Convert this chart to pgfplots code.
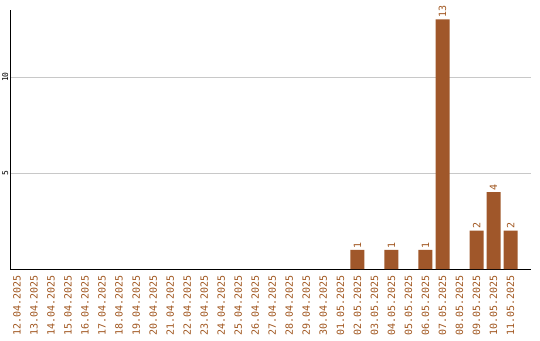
\documentclass[border=0pt]{standalone}
\usepackage{pgfplots}
\pgfplotsset{compat=1.18}
\usepackage{fontspec}
\setmainfont{DejaVu Sans Mono}
\definecolor{barcol}{HTML}{A0572A}
\definecolor{labcol}{HTML}{A0561F}
\definecolor{gridcol}{HTML}{C8C8C8}
\begin{document}
\begin{tikzpicture}
\path[use as bounding box] (-10pt,-71pt) rectangle (530pt,269pt);
\begin{axis}[
  scale only axis, width=521pt, height=259pt,
  xmin=-0.41, xmax=30.2, ymin=0, ymax=13.49,
  axis x line=bottom, axis y line=left,
  axis line style={-, black, line width=1pt},
  /pgf/number format/assume math mode=true,
  ytick={5,10}, ymajorgrids, grid style={gridcol, line width=0.8pt},
  major tick length=0pt,
  yticklabel style={rotate=90, anchor=south, font=\fontsize{8}{8}\selectfont, inner sep=1.5pt},
  xtick={0,...,29},
  xticklabels={12.04.2025,13.04.2025,14.04.2025,15.04.2025,16.04.2025,17.04.2025,18.04.2025,19.04.2025,20.04.2025,21.04.2025,22.04.2025,23.04.2025,24.04.2025,25.04.2025,26.04.2025,27.04.2025,28.04.2025,29.04.2025,30.04.2025,01.05.2025,02.05.2025,03.05.2025,04.05.2025,05.05.2025,06.05.2025,07.05.2025,08.05.2025,09.05.2025,10.05.2025,11.05.2025},
  xticklabel style={rotate=90, anchor=east, text=labcol, font=\fontsize{10}{10}\selectfont, inner sep=0pt, xshift=-6pt},
  ybar, bar width=14pt, bar shift=0pt,
  nodes near coords,
  every node near coord/.append style={rotate=90, anchor=west, text=labcol, font=\fontsize{10}{10}\selectfont, inner sep=1.5pt},
  clip=false,
]
\addplot[fill=barcol, draw=none] coordinates {
  (20,1) (22,1) (24,1) (25,13) (27,2) (28,4) (29,2)
};
\end{axis}
\end{tikzpicture}
\end{document}
